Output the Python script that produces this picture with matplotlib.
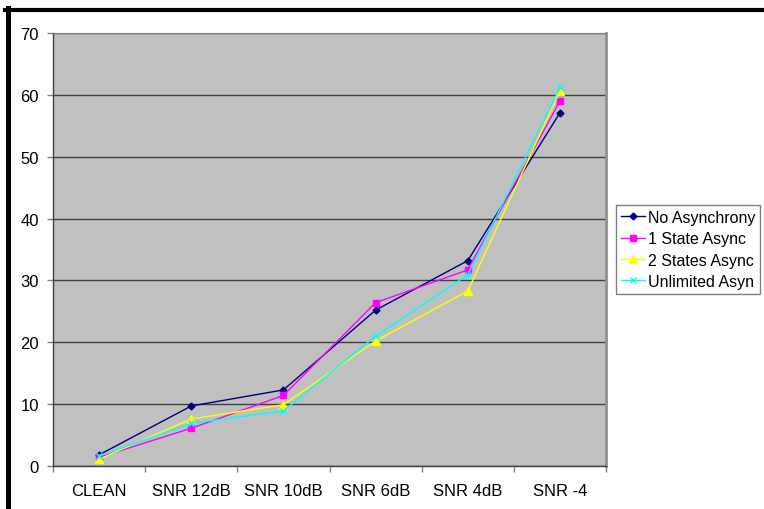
import matplotlib
matplotlib.use('Agg')
import matplotlib.pyplot as plt
from matplotlib.lines import Line2D
from matplotlib.ticker import MultipleLocator, FixedLocator

plt.rcParams['font.family'] = ['Liberation Sans', 'DejaVu Sans']

# word error rates per noise condition
conditions = ['CLEAN', 'SNR 12dB', 'SNR 10dB', 'SNR 6dB', 'SNR 4dB', 'SNR -4']
no_async = [1.8, 9.7, 12.3, 25.2, 33.2, 57.1]
one_state = [1.4, 6.1, 11.4, 26.4, 31.7, 59.0]
two_states = [1.1, 7.6, 9.9, 20.2, 28.3, 60.6]
unlimited = [1.6, 6.9, 8.9, 21.0, 30.9, 61.2]

series = [
    ('No Asynchrony', no_async, '#000080', 'D', 3.5),
    ('1 State Async', one_state, '#FF00FF', 's', 5),
    ('2 States Async', two_states, '#FFFF00', '^', 6),
    ('Unlimited Asyn', unlimited, '#00FFFF', 'x', 5),
]

fig = plt.figure(figsize=(7.64, 5.10), dpi=100)
ax = fig.add_axes([53 / 764, 1 - 467 / 510, (606 - 53) / 764, (467 - 34) / 510])
ax.set_facecolor('#C0C0C0')

x = list(range(len(conditions)))
for name, vals, color, marker, ms in series:
    ax.plot(x, vals, color=color, marker=marker, markersize=ms, linewidth=1,
            markeredgewidth=1, label=name)

ax.set_xlim(-0.5, len(conditions) - 0.5)
ax.set_ylim(0, 70)
ax.yaxis.set_major_locator(MultipleLocator(10))
ax.grid(axis='y', color='#404040', linewidth=1)
ax.set_axisbelow(True)

ax.set_xticks(x)
ax.set_xticklabels(conditions)
ax.xaxis.set_minor_locator(FixedLocator([i - 0.5 for i in range(len(conditions) + 1)]))
ax.tick_params(axis='x', which='major', length=0, pad=12, labelsize=12)
ax.tick_params(axis='x', which='minor', length=4, width=1, color='#808080', direction='out')
ax.tick_params(axis='y', length=4, width=1, color='#808080', pad=6, labelsize=12)

for side in ['left', 'bottom']:
    ax.spines[side].set_color('#404040')
    ax.spines[side].set_linewidth(1)
ax.spines['top'].set_color('#808080')
ax.spines['right'].set_color('#909090')
ax.spines['right'].set_linewidth(2)

fig.legend(loc='upper left', bbox_to_anchor=(616 / 764, 1 - 206 / 510),
           bbox_transform=fig.transFigure, borderaxespad=0, fontsize=11.5,
           fancybox=False, framealpha=1, edgecolor='#808080',
           handlelength=1.5, handletextpad=0.2, labelspacing=0.4,
           borderpad=0.3)

# heavy frame on top and left
fig.add_artist(Line2D([5 / 764, 1], [1 - 11 / 510, 1 - 11 / 510],
                      transform=fig.transFigure, color='black', linewidth=3))
fig.add_artist(Line2D([7.5 / 764, 7.5 / 764], [0, 1 - 9 / 510],
                      transform=fig.transFigure, color='black', linewidth=3.6))

fig.savefig('out.png', dpi=100)
